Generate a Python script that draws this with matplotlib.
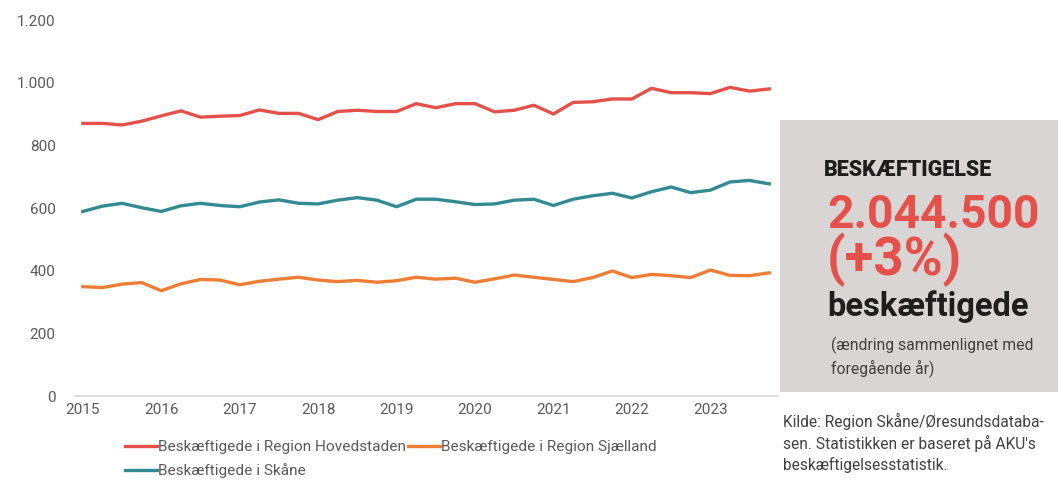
import matplotlib
matplotlib.use("Agg")
import matplotlib.pyplot as plt
from matplotlib.ticker import FuncFormatter

# ---- data (quarterly, 2015 Q1 - 2023 Q4, thousands) ----
years = ["2015", "2016", "2017", "2018", "2019", "2020", "2021", "2022", "2023"]
hovedstaden = [870, 870, 865, 877, 894, 910, 890, 893, 895, 913, 902, 902,
               882, 908, 912, 908, 908, 933, 920, 933, 933, 907, 912, 928,
               900, 937, 939, 948, 948, 982, 968, 968, 965, 985, 973, 980]
sjaelland = [349, 346, 357, 362, 336, 358, 372, 370, 355, 366, 373, 379,
             370, 365, 369, 363, 368, 379, 373, 376, 363, 374, 386, 379,
             372, 365, 378, 399, 378, 388, 384, 378, 402, 385, 384, 393]
skaane = [589, 606, 615, 601, 589, 607, 615, 608, 604, 619, 626, 615,
          613, 625, 633, 625, 604, 628, 628, 620, 611, 613, 625, 628,
          608, 628, 639, 647, 632, 652, 667, 649, 657, 683, 688, 677]
labels = ["Beskæftigede i Region Hovedstaden",
          "Beskæftigede i Region Sjælland",
          "Beskæftigede i Skåne"]
yticks = [0, 200, 400, 600, 800, 1000, 1200]

RED = "#E5504A"
ORANGE = "#EE7D35"
TEAL = "#338A93"
GRAY = "#595959"

plt.rcParams['font.family'] = ['Roboto', 'DejaVu Sans']

fig = plt.figure(figsize=(10.58, 4.8), dpi=100)
ax = fig.add_axes([75 / 1058, 1 - 396 / 480, (778 - 75) / 1058, (396 - 20) / 480])

x = list(range(len(hovedstaden)))
lw = 2.4
l1, = ax.plot(x, hovedstaden, color=RED, lw=lw, solid_joinstyle="round")
l2, = ax.plot(x, sjaelland, color=ORANGE, lw=lw, solid_joinstyle="round")
l3, = ax.plot(x, skaane, color=TEAL, lw=lw, solid_joinstyle="round")

ax.set_ylim(0, 1200)
ax.set_xlim(-0.4, len(x) - 1 + 0.45)
ax.set_yticks(yticks)
ax.yaxis.set_major_formatter(FuncFormatter(lambda v, p: f"{int(v):,}".replace(",", ".")))
ax.set_xticks([4 * i for i in range(len(years))])
ax.set_xticklabels(years)
for s in ["top", "right", "left"]:
    ax.spines[s].set_visible(False)
ax.spines["bottom"].set_color("#D9D9D9")
ax.spines["bottom"].set_linewidth(1.2)
ax.tick_params(axis="both", length=0, labelsize=11, labelcolor=GRAY)
ax.tick_params(axis="y", pad=14)
ax.tick_params(axis="x", pad=5)

leg = fig.legend([l1, l3, l2], [labels[0], labels[2], labels[1]], ncol=2,
                 loc="upper left", bbox_to_anchor=(125 / 1058, 1 - 440 / 480),
                 frameon=False, fontsize=11.1, handlelength=2.1, handletextpad=0.05,
                 columnspacing=0.1, labelspacing=0.6, borderpad=0, borderaxespad=0)
for t in leg.get_texts():
    t.set_color(GRAY)

# ---- right info box ----
fig.patches.append(plt.Rectangle((780 / 1058, 1 - 392 / 480), (1058 - 780) / 1058,
                                 (392 - 120) / 480, transform=fig.transFigure,
                                 facecolor="#D9D5D4", edgecolor="none", zorder=0))

def fx(px):
    return px / 1058

def fy(py):
    return 1 - py / 480

fig.text(fx(824), fy(170), "BESKÆFTIGELSE", fontsize=15.5, fontweight="black",
         color="#1E1E1E", va="center", ha="left")
fig.text(fx(827), fy(215), "2.044.500", fontsize=33.3, fontweight="bold",
         color=RED, va="center", ha="left")
fig.text(fx(827), fy(260), "(+3%)", fontsize=38, fontweight="bold",
         color=RED, va="center", ha="left")
fig.text(fx(827), fy(307), "beskæftigede", fontsize=23.5, fontweight="bold",
         color="#1E1E1E", va="center", ha="left")
fig.text(fx(831), fy(357), "(ændring sammenlignet med\nforegående år)", fontsize=11.3,
         color="#404040", va="center", ha="left", linespacing=1.4)
fig.text(fx(783), fy(443), "Kilde: Region Skåne/Øresundsdataba-\nsen. Statistikken er baseret på AKU's\nbeskæftigelsesstatistik.",
         fontsize=11.2, color="#404040", va="center", ha="left", linespacing=1.4)

fig.savefig("out.png", dpi=100)
